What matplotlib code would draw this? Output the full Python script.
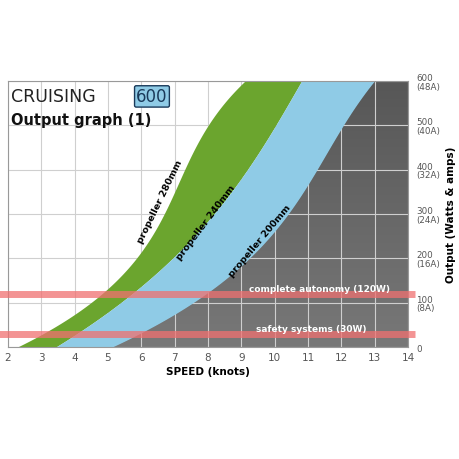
import matplotlib.pyplot as plt
import numpy as np

# curve points (output W, speed knots)
watts = [0, 30, 120, 200, 300, 400, 500, 600]
speed_280 = [2.0, 3.3, 5.05, 5.75, 6.4, 7.35, 8.25, 9.0]
speed_240 = [3.3, 4.25, 5.65, 6.95, 8.15, 9.2, 10.05, 10.8]
speed_200 = [5.05, 6.05, 7.85, 9.25, 10.45, 11.25, 12.05, 13.0]
yticks = [0, 100, 200, 300, 400, 500, 600]
ylabels = ['0', '100\n(8A)', '200\n(16A)', '300\n(24A)', '400\n(32A)', '500\n(40A)', '600\n(48A)']
xticks = list(range(2, 15))
limits = [(120, 'complete autonomy (120W)', 11.35, 132), (30, 'safety systems (30W)', 11.1, 42)]

fig = plt.figure(figsize=(4.6, 4.6), dpi=100)
ax = fig.add_axes([0.017, 0.243, 0.87, 0.579])

y = np.linspace(0, 600, 300)
# smooth the read points with a cubic fit
a = np.polyval(np.polyfit(watts, speed_280, 3), y)
b = np.polyval(np.polyfit(watts, speed_240, 3), y)
c = np.polyval(np.polyfit(watts, speed_200, 3), y)

ax.grid(True, color='#cfcfcf', lw=0.8, zorder=0)
ax.fill_betweenx(y, a, b, color='#6ba52e', zorder=2, lw=0)
ax.fill_betweenx(y, b, c, color='#8fcbe6', zorder=2, lw=0)
# gray gradient region, darker at the top
t = np.linspace(0, 1, 256).reshape(-1, 1, 1)
grad = (0.47 - 0.13 * t) * np.ones((1, 1, 3))
im = ax.imshow(grad, extent=[2, 14, 0, 600], aspect='auto', origin='lower', zorder=1)
poly = ax.fill_betweenx(y, c, 14.5, color='none', lw=0)
im.set_clip_path(poly.get_paths()[0], transform=ax.transData)
ax.set_xlim(2, 14)
ax.set_ylim(0, 600)

for val, txt, tx, ty in limits:
    ax.plot([1.5, 14.2], [val, val], color='#f07070', lw=5, alpha=0.75,
            clip_on=False, zorder=4, solid_capstyle='butt')
    ax.text(tx, ty, txt, color='white', fontsize=6.5, fontweight='bold',
            ha='center', va='center', zorder=5)

ax.text(6.55, 330, 'propeller 280mm', rotation=64, fontsize=6.8, fontweight='bold',
        ha='center', va='center', zorder=5)
ax.text(7.95, 282, 'propeller 240mm', rotation=53, fontsize=6.8, fontweight='bold',
        ha='center', va='center', zorder=5)
ax.text(9.55, 240, 'propeller 200mm', rotation=50, fontsize=6.8, fontweight='bold',
        ha='center', va='center', zorder=5)

ax.text(2.1, 565, 'CRUISING', fontsize=12.5, color='#222222', va='center', zorder=6)
ax.text(5.85, 565, '600', fontsize=12, color='#1a3a5a', va='center', zorder=6,
        bbox=dict(boxstyle='round,pad=0.1', fc='#8fcbe6', ec='#1a3a5a', lw=1))
ax.text(2.1, 512, 'Output graph (1)', fontsize=10.5, fontweight='bold', color='#111111',
        va='center', zorder=6)

ax.set_xticks(xticks)
ax.set_yticks(yticks)
ax.set_yticklabels(ylabels, fontsize=6.3, color='#555555', linespacing=0.95)
ax.yaxis.tick_right()
ax.yaxis.set_label_position('right')
ax.tick_params(axis='x', labelsize=7.5, colors='#555555', length=0)
ax.tick_params(axis='y', length=0, pad=6)
ax.set_xlabel('SPEED (knots)', fontsize=7.5, fontweight='bold', labelpad=3)
ax.set_ylabel('Output (Watts & amps)', fontsize=7.5, fontweight='bold', labelpad=4)
for s in ax.spines.values():
    s.set_color('#999999')
    s.set_linewidth(0.8)

fig.savefig('out.png', dpi=100)
